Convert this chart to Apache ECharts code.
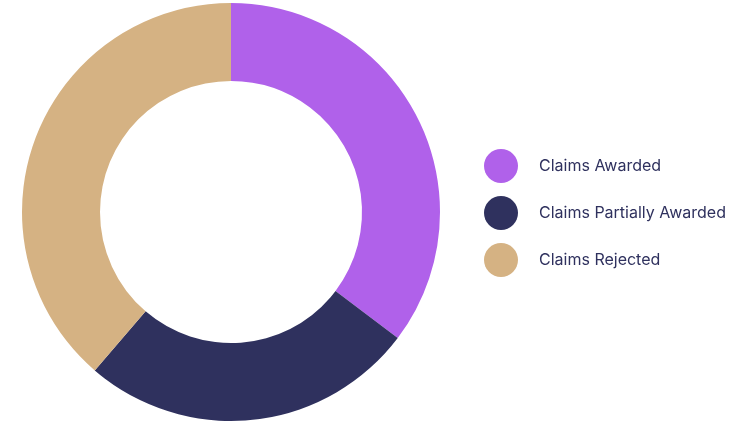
<!DOCTYPE html>
<html>
<head>
<meta charset="utf-8">
<script src="https://cdn.jsdelivr.net/npm/echarts@6/dist/echarts.min.js"></script>
<style>
html,body{margin:0;padding:0;background:#fff;}
#chart{width:741px;height:426px;}
</style>
</head>
<body>
<div id="chart"></div>
<script>
const categories = ['Claims Awarded', 'Claims Partially Awarded', 'Claims Rejected'];
const values = [35.3, 26.0, 38.7];
const colors = ['#B061EA', '#2F315E', '#D5B283'];

const chart = echarts.init(document.getElementById('chart'), null, {renderer: 'canvas'});
chart.setOption({
  animation: false,
  color: colors,
  legend: {
    orient: 'vertical',
    left: 484,
    top: 'middle',
    padding: 0,
    icon: 'circle',
    itemWidth: 34,
    itemHeight: 34,
    itemGap: 13,
    data: categories,
    textStyle: {
      fontFamily: 'Inter',
      fontSize: 16,
      color: '#2F315E',
      padding: [0, 0, 0, 16]
    }
  },
  series: [{
    type: 'pie',
    center: [231, 212],
    radius: [131, 209],
    startAngle: 90,
    clockwise: true,
    label: {show: false},
    labelLine: {show: false},
    emphasis: {disabled: true},
    itemStyle: {borderWidth: 0},
    data: categories.map((c, i) => ({name: c, value: values[i]}))
  }]
});
</script>
</body>
</html>
